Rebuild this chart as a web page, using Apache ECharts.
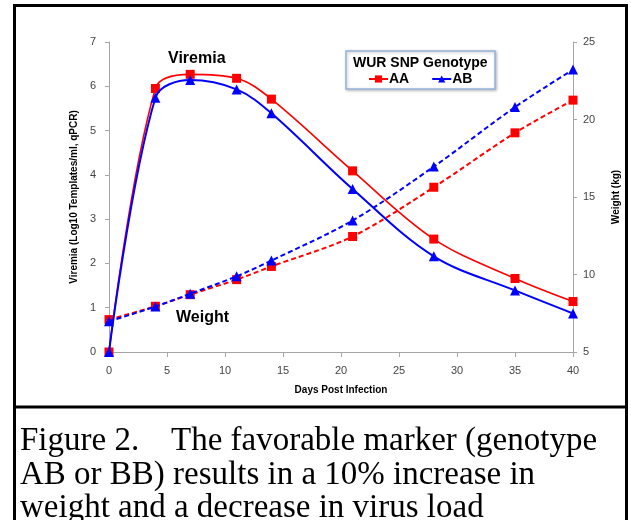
<!DOCTYPE html>
<html>
<head>
<meta charset="utf-8">
<script src="https://cdn.jsdelivr.net/npm/echarts@6/dist/echarts.min.js"></script>
<style>
  html, body { margin: 0; padding: 0; background: #fff; }
  #chart { width: 631px; height: 520px; }
</style>
</head>
<body>
<div id="chart"></div>
<script>
(function () {
    'use strict';

    var days = [0, 4, 7, 11, 14, 21, 28, 35, 40];
    var viremiaAA = [0, 5.95, 6.27, 6.18, 5.71, 4.09, 2.55, 1.66, 1.14];
    var viremiaAB = [0, 5.74, 6.14, 5.93, 5.39, 3.68, 2.16, 1.39, 0.87];
    var weightAA = [7.09, 7.95, 8.7, 9.67, 10.52, 12.45, 15.63, 19.14, 21.25];
    var weightAB = [6.98, 7.93, 8.76, 9.88, 10.9, 13.48, 16.96, 20.8, 23.22];
    var genotypes = ['AA', 'AB'];
    var captionLabel = 'Figure 2.';
    var captionLines = [
        'The favorable marker (genotype',
        'AB or BB) results in a 10% increase in',
        'weight and a decrease in virus load'
    ];

    var RED = '#ff0000';
    var BLUE = '#0000ff';
    var SANS = 'Arial, Liberation Sans, sans-serif';
    var SERIF = '"Liberation Serif", "Times New Roman", serif';

    function pairs(values) {
        var out = [];
        for (var i = 0; i < days.length; i++) {
            out.push([days[i], values[i]]);
        }
        return out;
    }

    var chart = echarts.init(document.getElementById('chart'), null, { renderer: 'canvas' });

    var tickLabel = { color: '#444', fontSize: 11, fontFamily: SANS };
    var axisName = { color: '#000', fontSize: 10, fontWeight: 'bold', fontFamily: SANS };

    chart.setOption({
        animation: false,
        backgroundColor: '#fff',
        grid: { left: 109, right: 58, top: 42, bottom: 168, containLabel: false },
        legend: {
            data: genotypes,
            left: 368,
            top: 72,
            z: 10,
            itemWidth: 19,
            itemHeight: 9,
            itemGap: 22,
            padding: 0,
            textStyle: { color: '#000', fontSize: 14, fontWeight: 'bold', fontFamily: SANS, padding: [0, 0, 0, -4] }
        },
        xAxis: {
            type: 'value',
            min: 0,
            max: 40,
            interval: 5,
            name: 'Days Post Infection',
            nameLocation: 'middle',
            nameGap: 33,
            nameTextStyle: axisName,
            axisLine: { lineStyle: { color: '#a6a6a6' } },
            axisTick: { show: true, length: 5, lineStyle: { color: '#a6a6a6' } },
            axisLabel: Object.assign({ margin: 13 }, tickLabel),
            splitLine: { show: false }
        },
        yAxis: [{
            type: 'value',
            min: 0,
            max: 7,
            interval: 1,
            name: 'Viremia (Log10 Templates/ml, qPCR)',
            nameLocation: 'middle',
            nameGap: 28,
            nameTextStyle: axisName,
            axisLine: { show: true, lineStyle: { color: '#a6a6a6' } },
            axisTick: { show: true, length: 4, lineStyle: { color: '#a6a6a6' } },
            axisLabel: Object.assign({ margin: 13 }, tickLabel),
            splitLine: { show: false }
        }, {
            type: 'value',
            min: 5,
            max: 25,
            interval: 5,
            position: 'right',
            name: 'Weight (kg)',
            nameLocation: 'middle',
            nameGap: 38,
            nameRotate: 90,
            nameTextStyle: axisName,
            axisLine: { show: true, lineStyle: { color: '#a6a6a6' } },
            axisTick: { show: true, length: 4, lineStyle: { color: '#a6a6a6' } },
            axisLabel: Object.assign({ margin: 10 }, tickLabel),
            splitLine: { show: false }
        }],
        series: [{
            name: 'AA',
            type: 'line',
            yAxisIndex: 0,
            smooth: 0.35,
            data: pairs(viremiaAA),
            symbol: 'rect',
            symbolSize: 9,
            itemStyle: { color: RED },
            lineStyle: { color: RED, width: 1.6 },
            z: 3
        }, {
            name: 'AB',
            type: 'line',
            yAxisIndex: 0,
            smooth: 0.35,
            data: pairs(viremiaAB),
            symbol: 'triangle',
            symbolSize: 10,
            itemStyle: { color: BLUE },
            lineStyle: { color: BLUE, width: 2 },
            z: 4
        }, {
            name: 'AA',
            type: 'line',
            yAxisIndex: 1,
            smooth: 0.3,
            data: pairs(weightAA),
            symbol: 'rect',
            symbolSize: 9,
            itemStyle: { color: RED },
            lineStyle: { color: RED, width: 2, type: [5, 3] },
            z: 3
        }, {
            name: 'AB',
            type: 'line',
            yAxisIndex: 1,
            smooth: 0.3,
            data: pairs(weightAB),
            symbol: 'triangle',
            symbolSize: 10,
            itemStyle: { color: BLUE },
            lineStyle: { color: BLUE, width: 2, type: [5, 3] },
            z: 4
        }],
        graphic: [{
            // outer frame and caption divider
            type: 'rect',
            shape: { x: 14.5, y: 5.5, width: 612, height: 530 },
            style: { fill: null, stroke: '#000', lineWidth: 3 },
            silent: true
        }, {
            type: 'line',
            shape: { x1: 14, y1: 407, x2: 627, y2: 407 },
            style: { stroke: '#000', lineWidth: 3 },
            silent: true
        }, {
            // legend box
            type: 'rect',
            shape: { x: 346, y: 51, width: 149, height: 38 },
            style: { fill: '#fff', stroke: '#95b3d7', lineWidth: 1.5, shadowColor: 'rgba(0,0,0,0.25)', shadowBlur: 3, shadowOffsetX: 1, shadowOffsetY: 1 },
            z: 5,
            silent: true
        }, {
            type: 'text',
            left: 353,
            top: 56,
            style: { text: 'WUR SNP Genotype', fill: '#000', font: 'bold 14px ' + SANS },
            z: 6,
            silent: true
        }, {
            type: 'text',
            left: 168,
            top: 51,
            style: { text: 'Viremia', fill: '#000', font: 'bold 16px ' + SANS },
            silent: true
        }, {
            type: 'text',
            left: 176,
            top: 310,
            style: { text: 'Weight', fill: '#000', font: 'bold 16px ' + SANS },
            silent: true
        }, {
            type: 'text',
            x: 20,
            y: 425,
            style: { text: captionLabel, fill: '#000', font: '33px ' + SERIF, lineHeight: 33.5 },
            silent: true
        }, {
            type: 'text',
            x: 171,
            y: 425,
            style: { text: captionLines[0], fill: '#000', font: '33px ' + SERIF, lineHeight: 33.5 },
            silent: true
        }, {
            type: 'text',
            x: 20,
            y: 458.5,
            style: { text: captionLines.slice(1).join('\n'), fill: '#000', font: '33px ' + SERIF, lineHeight: 33.5 },
            silent: true
        }]
    });
}());
</script>
</body>
</html>
